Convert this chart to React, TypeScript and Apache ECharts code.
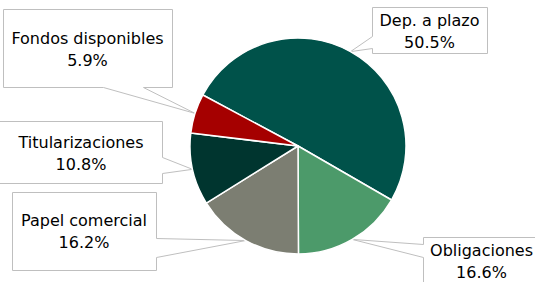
import React, { useEffect, useRef } from "react";
import * as echarts from "echarts";

const categories = ["Dep. a plazo", "Obligaciones", "Papel comercial", "Titularizaciones", "Fondos disponibles"];
const values = [50.5, 16.6, 16.2, 10.8, 5.9];
const colors = ["#00524A", "#4C9A6A", "#7C7E72", "#00352F", "#A50000"];

// Layout of the callout boxes (positions only)
const CX = 298;
const CY = 146;
const R = 108;
const START = 151.8;
type Box = { x1: number; y1: number; x2: number; y2: number; side: "left" | "right" | "bottom"; b1: number; b2: number; tx: number; ty: number };
const boxes: Box[] = [
  { x1: 372, y1: 7, x2: 487, y2: 53, side: "left", b1: 36, b2: 48, tx: 429.5, ty: 31 },
  { x1: 423, y1: 237, x2: 541, y2: 290, side: "left", b1: 244, b2: 257, tx: 481.5, ty: 261 },
  { x1: 12, y1: 192, x2: 156, y2: 270, side: "right", b1: 238, b2: 257, tx: 84, ty: 231 },
  { x1: -2, y1: 121, x2: 162, y2: 183, side: "right", b1: 157, b2: 173, tx: 81, ty: 153 },
  { x1: 3, y1: 9, x2: 172, y2: 87, side: "bottom", b1: 103, b2: 143, tx: 87.5, ty: 49.5 },
];

function anchors() {
  const total = values.reduce((a, b) => a + b, 0);
  let cum = 0;
  return values.map((v) => {
    const mid = cum + v / 2;
    cum += v;
    const ang = ((START - (mid / total) * 360) * Math.PI) / 180;
    return [CX + R * Math.cos(ang), CY - R * Math.sin(ang)];
  });
}

function calloutPoints(b: Box, tip: number[]) {
  const p = (v: number) => Math.round(v) + 0.5;
  const x1 = p(b.x1), y1 = p(b.y1), x2 = p(b.x2), y2 = p(b.y2);
  if (b.side === "left") {
    return [[x1, y1], [x2, y1], [x2, y2], [x1, y2], [x1, p(b.b2)], tip, [x1, p(b.b1)]];
  }
  if (b.side === "right") {
    return [[x1, y1], [x2, y1], [x2, p(b.b1)], tip, [x2, p(b.b2)], [x2, y2], [x1, y2]];
  }
  return [[x1, y1], [x2, y1], [x2, y2], [p(b.b2), y2], tip, [p(b.b1), y2], [x1, y2]];
}

export default function App() {
  const ref = useRef<HTMLDivElement>(null);
  useEffect(() => {
    if (!ref.current) return;
    const chart = echarts.init(ref.current, null, { renderer: "svg" });
    const tips = anchors();
    chart.setOption({
      animation: false,
      backgroundColor: "#ffffff",
      graphic: boxes.map((b, i) => ({
        type: "polygon",
        z: 0,
        shape: { points: calloutPoints(b, tips[i]) },
        style: { fill: "#ffffff", stroke: "#BFBFBF", lineWidth: 1 },
        silent: true,
      })),
      series: [
        {
          type: "pie",
          center: [CX, CY],
          radius: [0, R],
          startAngle: START,
          clockwise: true,
          z: 2,
          itemStyle: { borderColor: "#ffffff", borderWidth: 1.5 },
          label: {
            show: true,
            position: "outside",
            fontFamily: "DejaVu Sans",
            fontSize: 16,
            lineHeight: 22,
            color: "#000000",
            align: "center",
            overflow: "none",
            width: 300,
            formatter: (p: any) => `${p.name}\n${Number(p.value).toFixed(1)}%`,
          },
          labelLine: { show: false },
          labelLayout: (params: any) => {
            const b = boxes[params.dataIndex];
            return { x: b.tx, y: b.ty, align: "center", verticalAlign: "middle" };
          },
          data: categories.map((c, i) => ({ name: c, value: values[i], itemStyle: { color: colors[i] } })),
        },
      ],
    });
    return () => chart.dispose();
  }, []);
  return <div ref={ref} style={{ position: "fixed", left: 0, top: 0, width: 535, height: 282 }} />;
}
